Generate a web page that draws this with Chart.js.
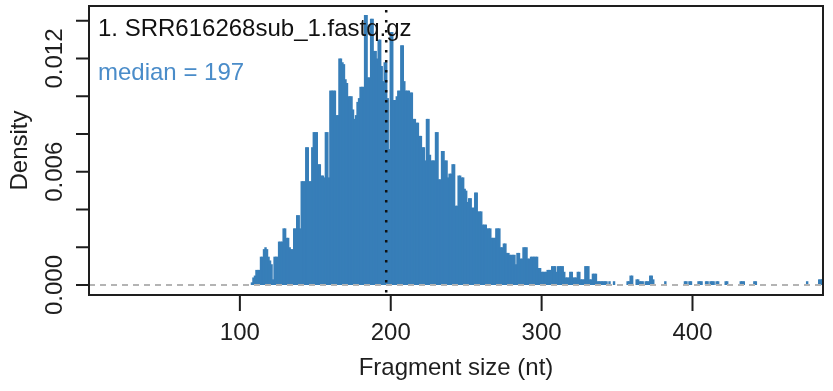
<!DOCTYPE html>
<html>
<head>
<meta charset="utf-8">
<script src="https://cdn.jsdelivr.net/npm/chart.js@4"></script>
<style>
  html, body { margin: 0; padding: 0; background: #fff; }
  canvas { display: block; }
</style>
</head>
<body>
<canvas id="fragmentChart" width="833" height="391"></canvas>
<script>
// density for every fragment size from 108 to 343 nt
const firstSize = 108;
const densityMain = [
  0.00014, 0.0004, 0.0005, 0.0008, 0.0008, 0.0008, 0.0015, 0.0015, 0.0019, 0.0020,   // 108-117
  0.0019, 0.0015, 0.0013, 0.0011, 0.0003, 0.0015, 0.0015, 0.0015, 0.0023, 0.0023,    // 118-127
  0.0023, 0.0030, 0.0030, 0.0025, 0.0025, 0.0020, 0.0019, 0.0019, 0.0030, 0.0030,    // 128-137
  0.0037, 0.0037, 0.0030, 0.0055, 0.0055, 0.0055, 0.0073, 0.0073, 0.0055, 0.0055,    // 138-147
  0.0073, 0.0081, 0.0081, 0.0081, 0.0064, 0.0064, 0.0058, 0.0058, 0.0057, 0.0081,    // 148-157
  0.0081, 0.0057, 0.0103, 0.0103, 0.0103, 0.0103, 0.0090, 0.0090, 0.0120, 0.0120,    // 158-167
  0.0118, 0.0117, 0.0109, 0.0107, 0.0100, 0.0100, 0.0100, 0.0093, 0.0088, 0.0090,    // 168-177
  0.0097, 0.0099, 0.0105, 0.0105, 0.0105, 0.0143, 0.0143, 0.0110, 0.0110, 0.0141,    // 178-187
  0.0141, 0.0124, 0.0124, 0.0120, 0.0130, 0.0130, 0.0116, 0.0108, 0.0118, 0.0118,    // 188-197
  0.0099, 0.0072, 0.0134, 0.0134, 0.0098, 0.0098, 0.0100, 0.0103, 0.0103, 0.0127,    // 198-207
  0.0127, 0.0108, 0.0103, 0.0103, 0.0103, 0.0102, 0.0102, 0.0088, 0.0088, 0.0086,    // 208-217
  0.0086, 0.0079, 0.0079, 0.0073, 0.0073, 0.0066, 0.0088, 0.0088, 0.0069, 0.0066,    // 218-227
  0.0066, 0.0066, 0.0081, 0.0081, 0.0056, 0.0056, 0.0071, 0.0071, 0.0066, 0.0066,    // 228-237
  0.0057, 0.0059, 0.0059, 0.0064, 0.0064, 0.0042, 0.0042, 0.0058, 0.0058, 0.0057,    // 238-247
  0.0057, 0.0051, 0.0050, 0.0044, 0.0046, 0.0046, 0.0041, 0.0041, 0.0049, 0.0049,    // 248-257
  0.0039, 0.0039, 0.0039, 0.0032, 0.0032, 0.0032, 0.0030, 0.0030, 0.0030, 0.0025,    // 258-267
  0.0025, 0.0025, 0.0030, 0.0030, 0.0030, 0.0020, 0.0020, 0.0022, 0.0022, 0.0017,    // 268-277
  0.0017, 0.0016, 0.0016, 0.0016, 0.0016, 0.0011, 0.0017, 0.0017, 0.0014, 0.0014,    // 278-287
  0.0020, 0.0020, 0.0020, 0.0014, 0.0014, 0.0015, 0.0015, 0.0015, 0.0015, 0.0015,    // 288-297
  0.0009, 0.0009, 0.0007, 0.0007, 0.0007, 0.0007, 0.0008, 0.0008, 0.0008, 0.0010,    // 298-307
  0.0010, 0.0010, 0.0007, 0.0010, 0.0010, 0.0010, 0.0010, 0.0007, 0.0004, 0.0004,    // 308-317
  0.0004, 0.0007, 0.0007, 0.0004, 0.0004, 0.0004, 0.0007, 0.0007, 0.0003, 0.0003,    // 318-327
  0.0003, 0.0010, 0.0010, 0.0010, 0.0003, 0.0003, 0.0006, 0.0006, 0.0006, 0.0002,    // 328-337
  0.0002, 0.0002, 0.0002, 0.0002, 0.0002, 0.0002                                     // 338-343
];

// sparse long tail, only sizes that have reads
const tailSizes = [345, 348, 357, 358, 359, 360, 363, 364, 365, 366, 367, 369, 370, 371,
  372, 373, 374, 382, 395, 396, 398, 399, 404, 405, 406, 409, 410, 412, 413, 414,
  416, 417, 422, 423, 432, 433, 434, 441, 442, 476, 484, 485, 486];
const tailDensity = [0.0002, 0.0002, 0.0002, 0.0002, 0.0005, 0.0005, 0.0003, 0.0003, 0.0002, 0.0002, 0.0002, 0.0002, 0.0002, 0.0002,
  0.0005, 0.0005, 0.0003, 0.0002, 0.0002, 0.0002, 0.0002, 0.0002, 0.0002, 0.0002, 0.0002, 0.0002, 0.0002, 0.0002, 0.0002, 0.0002,
  0.0002, 0.0002, 0.0002, 0.0002, 0.0002, 0.0002, 0.0002, 0.0002, 0.0002, 0.0002, 0.0003, 0.0003, 0.0003];

const xTicks = [100, 200, 300, 400];
const yTicks = [0, 0.002, 0.004, 0.006, 0.008, 0.010, 0.012, 0.014];
const yTickLabels = ["0.000", "0.006", "0.012"];
const medianSize = 197;
const sampleName = "1. SRR616268sub_1.fastq.gz";

const points = densityMain.map((d, i) => ({ x: firstSize + i, y: d }))
  .concat(tailSizes.map((s, i) => ({ x: s, y: tailDensity[i] })));

const font = (px) => px + 'px "Liberation Sans", Arial, sans-serif';
const axisColor = "#1e1e1e";

// R style box, ticks and labels, drawn through the chart scales
const rPlotAxes = {
  id: "rPlotAxes",
  afterDatasetsDraw(chart) {
    const { ctx, chartArea: a, scales: { x, y } } = chart;
    ctx.save();
    const y0 = y.getPixelForValue(0);
    ctx.strokeStyle = "#b4b4b4";
    ctx.lineWidth = 2;
    ctx.setLineDash([6, 5]);
    ctx.beginPath();
    ctx.moveTo(a.left, y0);
    ctx.lineTo(a.right, y0);
    ctx.stroke();

    const xm = x.getPixelForValue(medianSize);
    ctx.strokeStyle = "#111";
    ctx.lineWidth = 2.5;
    ctx.setLineDash([2.5, 7.5]);
    ctx.beginPath();
    ctx.moveTo(xm, a.top + 4);
    ctx.lineTo(xm, a.bottom);
    ctx.stroke();
    ctx.restore();
  },
  afterDraw(chart) {
    const { ctx, chartArea: a, scales: { x, y } } = chart;
    ctx.save();
    ctx.strokeStyle = axisColor;
    ctx.fillStyle = axisColor;
    ctx.lineWidth = 2;
    ctx.strokeRect(a.left, a.top, a.right - a.left, a.bottom - a.top);

    ctx.beginPath();
    yTicks.forEach(v => {
      const py = y.getPixelForValue(v);
      ctx.moveTo(a.left - 13, py);
      ctx.lineTo(a.left, py);
    });
    xTicks.forEach(v => {
      const px = x.getPixelForValue(v);
      ctx.moveTo(px, a.bottom);
      ctx.lineTo(px, a.bottom + 16);
    });
    ctx.stroke();

    ctx.font = font(24);
    ctx.textAlign = "center";
    ctx.textBaseline = "alphabetic";
    xTicks.forEach(v => ctx.fillText(String(v), x.getPixelForValue(v), a.bottom + 45));
    ctx.fillText("Fragment size (nt)", (a.left + a.right) / 2, a.bottom + 80);

    yTickLabels.forEach(t => {
      ctx.save();
      ctx.translate(a.left - 27, y.getPixelForValue(parseFloat(t)));
      ctx.rotate(-Math.PI / 2);
      ctx.fillText(t, 0, 0);
      ctx.restore();
    });
    ctx.save();
    ctx.translate(27, (a.top + a.bottom) / 2);
    ctx.rotate(-Math.PI / 2);
    ctx.fillText("Density", 0, 0);
    ctx.restore();

    ctx.textAlign = "left";
    ctx.fillStyle = "#111";
    ctx.fillText(sampleName, a.left + 9, a.top + 30);
    ctx.fillStyle = "#4a8cc9";
    ctx.fillText("median = " + medianSize, a.left + 9, a.top + 74);
    ctx.restore();
  }
};

new Chart(document.getElementById("fragmentChart"), {
  type: "bar",
  data: {
    datasets: [{
      data: points,
      backgroundColor: "#377EB8",
      borderWidth: 0,
      barPercentage: 1.6,
      categoryPercentage: 1
    }]
  },
  options: {
    responsive: false,
    animation: false,
    events: [],
    layout: { padding: { left: 89, right: 10, top: 6, bottom: 96 } },
    plugins: { legend: { display: false }, tooltip: { enabled: false } },
    scales: {
      x: { type: "linear", min: 0, max: 486.5, offset: false, display: false },
      y: { min: -0.00053, max: 0.01478, display: false }
    }
  },
  plugins: [rPlotAxes]
});
</script>
</body>
</html>
